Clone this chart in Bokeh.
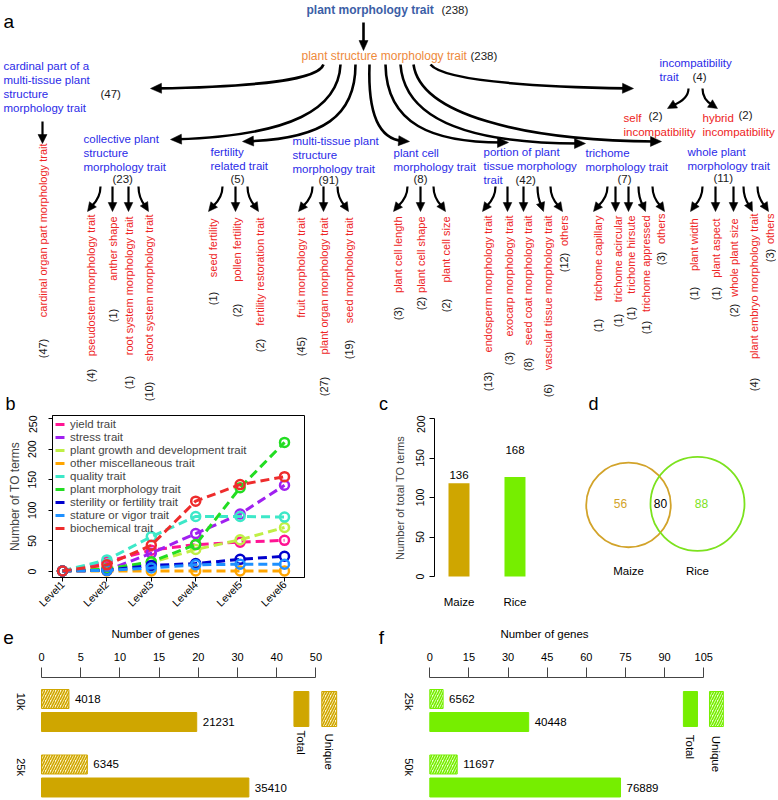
import numpy as np
from bokeh.plotting import figure
from bokeh.models import Range1d, FixedTicker, Legend, LegendItem
from bokeh.layouts import column, row
from bokeh.core.properties import value
from bokeh.embed import file_html
from bokeh.resources import INLINE

FONT = "Liberation Sans"

# ======================= DATA =======================
# ---- panel a : TO hierarchy ----
root_term, root_count = "plant morphology trait", 238
struct_term, struct_count = "plant structure morphology trait", 238

node_lines = [
    ["cardinal part of a", "multi-tissue plant", "structure", "morphology trait"],
    ["collective plant", "structure", "morphology trait"],
    ["fertility", "related trait"],
    ["multi-tissue plant", "structure", "morphology trait"],
    ["plant cell", "morphology trait"],
    ["portion of plant", "tissue morphology", "trait"],
    ["trichome", "morphology trait"],
    ["whole plant", "morphology trait"],
    ["incompatibility", "trait"],
]
node_counts = [47, 23, 5, 91, 8, 42, 7, 11, 4]

incompat_lines = [["self", "incompatibility"], ["hybrid", "incompatibility"]]
incompat_counts = [2, 2]

leaves_cardinal = ["cardinal organ part morphology trait"]
counts_cardinal = [47]
leaves_collective = ["pseudostem morphology trait", "anther shape",
                     "root system morphology trait", "shoot system morphology trait"]
counts_collective = [4, 1, 1, 10]
leaves_fertility = ["seed fertility", "pollen fertility", "fertility restoration trait"]
counts_fertility = [1, 2, 2]
leaves_multi = ["fruit morphology trait", "plant organ morphology trait", "seed morphology trait"]
counts_multi = [45, 27, 19]
leaves_cell = ["plant cell length", "plant cell shape", "plant cell size"]
counts_cell = [3, 2, 2]
leaves_portion = ["endosperm morphology trait", "exocarp morphology trait",
                  "seed coat morphology trait", "vascular tissue morphology trait", "others"]
counts_portion = [13, 3, 8, 6, 12]
leaves_trichome = ["trichome capillary", "trichome acircular", "trichome hirsute",
                   "trichome appressed", "others"]
counts_trichome = [1, 1, 1, 1, 3]
leaves_whole = ["plant width", "plant aspect", "whole plant size",
                "plant embryo morphology trait", "others"]
counts_whole = [1, 1, 2, 4, 3]

# ---- panel b : number of TO terms per level ----
b_levels = ["Level1", "Level2", "Level3", "Level4", "Level5", "Level6"]
b_names = ["yield trait", "stress trait", "plant growth and development trait",
           "other miscellaneous trait", "quality trait", "plant morphology trait",
           "sterility or fertility trait", "stature or vigor trait", "biochemical trait"]
b_yield = [1, 16, 35, 44, 48, 51]
b_stress = [1, 2, 30, 62, 94, 141]
b_growth = [1, 4, 15, 36, 52, 72]
b_misc = [1, 1, 1, 1, 1, 1]
b_quality = [1, 19, 57, 90, 90, 89]
b_morph = [1, 4, 16, 44, 137, 211]
b_sterility = [1, 2, 10, 13, 20, 25]
b_stature = [1, 2, 6, 11, 12, 12]
b_biochem = [1, 11, 43, 115, 142, 155]

# ---- panel c ----
c_species = ["Maize", "Rice"]
c_term_counts = [136, 168]
c_bar_heights = [118, 126]      # bar heights as drawn in the figure

# ---- panel d : Venn ----
d_only = [56, 88]
d_shared = 80

# ---- panel e : maize ----
e_groups = ["10k", "25k"]
e_total = [21231, 35410]
e_unique = [4018, 6345]
e_total_len = [19.8, 32.9]      # bar lengths (thousand genes)
e_unique_len = [3.5, 5.85]
e_tick_vals = [0, 5, 10, 15, 20, 30, 40, 50]

# ---- panel f : rice ----
f_groups = ["25k", "50k"]
f_total = [40448, 76889]
f_unique = [6562, 11697]
f_total_len = [37.9, 73.1]
f_unique_len = [5.1, 10.5]
f_tick_vals = [0, 15, 30, 45, 60, 75, 90, 105]

# ======================= STYLE =======================
BLUE = "#2B2BE8"
RED = "#EE2424"
ORANGE = "#EE8A3C"
ROOTC = "#3B5EA6"
BLACK = "#1a1a1a"
MAIZE = "#CFA600"
RICE = "#76EE00"
LETTER = "19px"


def txt(p, xs, ys, texts, color, size, align="left", baseline="middle", angle=0.0, style="normal"):
    return p.text(x=list(xs), y=list(ys), text=list(texts), text_color=color,
                  text_font=value(FONT), text_font_size=size, text_align=align,
                  text_baseline=baseline, angle=angle, text_font_style=style)


def blank(width, height, x0, y0, mb_bottom=0):
    return figure(width=width, height=height, x_range=Range1d(x0, x0 + width),
                  y_range=Range1d(y0 + height - mb_bottom, y0), x_axis_type=None,
                  y_axis_type=None, output_backend="svg", toolbar_location=None,
                  min_border=0, min_border_bottom=mb_bottom, outline_line_color=None)


# ======================= PANEL A =======================
A_H = 415
pa = blank(776, A_H, 0, 0)

big = dict(x0=[], y0=[], x1=[], y1=[], cx0=[], cy0=[], cx1=[], cy1=[])
small = dict(x0=[], y0=[], x1=[], y1=[], cx0=[], cy0=[], cx1=[], cy1=[])
hx, hy = [], []


def arrow(store, p0, p1, c0=None, c1=None, hl=9.0, hw=4.2):
    c0 = c0 or p0
    c1 = c1 or p0
    dx, dy = p1[0] - c1[0], p1[1] - c1[1]
    L = float(np.hypot(dx, dy))
    ux, uy = dx / L, dy / L
    bx, by = p1[0] - ux * hl, p1[1] - uy * hl
    nx, ny = -uy, ux
    hx.append([p1[0], bx + nx * hw, bx - nx * hw])
    hy.append([p1[1], by + ny * hw, by - ny * hw])
    ex, ey = p1[0] - ux * hl * 0.6, p1[1] - uy * hl * 0.6
    for kk, v in zip(["x0", "y0", "x1", "y1", "cx0", "cy0", "cx1", "cy1"],
                     [p0[0], p0[1], ex, ey, c0[0], c0[1], c1[0], c1[1]]):
        store[kk].append(v)


# root + structure
txt(pa, [306], [9], [root_term], ROOTC, "12px", style="bold")
txt(pa, [441], [9], [f"({root_count})"], BLACK, "11.5px")
arrow(big, (363, 22), (363, 50), hl=10, hw=4.5)
txt(pa, [301], [55], [struct_term], ORANGE, "12px")
txt(pa, [470], [55], [f"({struct_count})"], BLACK, "11.5px")

# main curved arrows: start, c0, c1, end
main_arrows = [
    ((323, 64), (318, 79), (262, 86), (150, 88)),
    ((340, 64), (338, 108), (292, 135), (170, 139)),
    ((355, 64), (355, 116), (322, 138), (242, 141)),
    ((369, 64), (367, 120), (382, 139), (409, 141)),
    ((385, 64), (386, 124), (432, 142), (508, 142)),
    ((400, 64), (404, 120), (472, 143), (585, 143)),
    ((413, 64), (420, 114), (522, 140), (661, 141)),
    ((430, 64), (442, 79), (522, 86), (633, 88)),
]
for s, c0, c1, e in main_arrows:
    arrow(big, s, e, c0, c1, hl=11, hw=5)

# heading nodes
node_xy = [(3, 65), (83, 138), (210, 151), (292, 140), (393, 152),
           (483, 151), (585, 152), (687, 151), (659, 62)]
node_cnt_xy = [(100, 93), (112, 178), (230, 178), (318, 179), (413, 178),
               (515, 179), (617, 178), (713, 177), (692, 76)]
LS = 14.3
for lines, cnt, (x, y), (cx, cy) in zip(node_lines, node_counts, node_xy, node_cnt_xy):
    txt(pa, [x] * len(lines), [y + i * LS for i in range(len(lines))], lines, BLUE, "11.5px")
    txt(pa, [cx], [cy], [f"({cnt})"], BLACK, "11.5px")

# incompatibility children
inc_xy = [(623, 117), (702, 117)]
inc_cnt_xy = [(648, 115), (738, 114)]
for lines, cnt, (x, y), (cx, cy) in zip(incompat_lines, incompat_counts, inc_xy, inc_cnt_xy):
    txt(pa, [x] * len(lines), [y + i * LS for i in range(len(lines))], lines, RED, "11.5px")
    txt(pa, [cx], [cy], [f"({cnt})"], BLACK, "11.5px")
arrow(small, (688, 88), (667, 108), (688, 100), (674, 104), hl=9, hw=4.5)
arrow(small, (702, 88), (717, 108), (702, 100), (711, 104), hl=9, hw=4.5)

# cardinal down arrow
arrow(small, (42, 121), (42, 143), hl=9, hw=4.5)

# leaves
groups = [
    (leaves_cardinal, counts_cardinal, [42], [143], [348], None),
    (leaves_collective, counts_collective, [90, 112, 128, 148], [214, 216, 216, 214],
     [375, 315, 382, 391], [(100, 87), (112, 112), (128, 128), (138, 148)]),
    (leaves_fertility, counts_fertility, [212, 236, 259], [218, 217, 217],
     [298, 310, 345], [(222, 208), (235, 235), (247, 258)]),
    (leaves_multi, counts_multi, [300, 323, 348], [217, 217, 217],
     [346, 386, 349], [(312, 298), (323, 323), (337, 348)]),
    (leaves_cell, counts_cell, [397, 420, 445], [216, 216, 216],
     [313, 303, 305], [(407, 393), (420, 420), (433, 445)]),
    (leaves_portion, counts_portion, [487, 508, 527, 547, 563], [215] * 5,
     [381, 358, 364, 390, 262], [(495, 482), (507, 507), (523, 523), (537, 543), (550, 562)]),
    (leaves_trichome, counts_trichome, [597, 617, 630, 645, 660], [215, 215, 215, 215, 213],
     [325, 320, 313, 327, 258], [(607, 593), (615, 615), (628, 628), (638, 645), (652, 664)]),
    (leaves_whole, counts_whole, [693, 715, 733, 753, 769], [218, 218, 218, 213, 213],
     [293, 293, 310, 384, 255], [(702, 690), (715, 715), (733, 733), (743, 752), (757, 768)]),
]
for labels, counts, xs, tops, cys, arrs in groups:
    txt(pa, xs, tops, labels, RED, "11px", align="right", angle=np.pi / 2)
    txt(pa, xs, cys, [f"({c})" for c in counts], BLACK, "11px", align="center", angle=np.pi / 2)
    if arrs:
        for xs0, xe in arrs:
            if xs0 == xe:
                arrow(small, (xs0, 186), (xe, 211), hl=9, hw=4.3)
            else:
                arrow(small, (xs0, 186), (xe, 211), (xs0, 199), (xe + (xs0 - xe) * 0.35, 205), hl=9, hw=4.3)

pa.bezier(line_color="black", line_width=2.6, **big)
pa.bezier(line_color="black", line_width=2.2, **small)
pa.patches(hx, hy, fill_color="black", line_color="black", line_width=0.5)
txt(pa, [3], [21], ["a"], "black", LETTER)
# panel letters of the second row (they sit right at the top of that row)
txt(pa, [10, 383, 593], [A_H - 12] * 3, ["b", "c", "d"], "black", "18px", align="center")

# ======================= PANEL B =======================
ROW2 = 200
MB2 = 37          # bottom border shared by all plots of the second row
pb = figure(width=370, height=ROW2, x_range=Range1d(0.775, 6.45), y_range=Range1d(-9.7, 254.9),
            output_backend="svg", toolbar_location=None,
            min_border_left=52, min_border_right=66, min_border_top=0, min_border_bottom=MB2)
pb.grid.visible = False
pb.outline_line_color = "black"
xb = list(range(1, len(b_levels) + 1))
b_series = [b_yield, b_stress, b_growth, b_misc, b_quality, b_morph, b_sterility, b_stature, b_biochem]
b_colors = ["#FF1493", "#A020F0", "#BFEF45", "#FFA500", "#3DE8C8", "#22DD22",
            "#0000CD", "#1E90FF", "#EE2C2C"]
items = []
for name, vals, col in zip(b_names, b_series, b_colors):
    r = pb.line(xb, vals, line_color=col, line_width=3, line_dash="9 5")
    pb.scatter(xb, vals, marker="circle", size=9, fill_color=None, line_color=col, line_width=2.5)
    items.append(LegendItem(label=name, renderers=[r]))
leg = Legend(items=items, location="top_left", border_line_color=None, background_fill_alpha=0,
             label_text_font=FONT, label_text_font_size="11.5px", glyph_width=10, glyph_height=12,
             label_height=12, spacing=1, padding=0, margin=3, label_standoff=5)
pb.add_layout(leg)
pb.xaxis.ticker = FixedTicker(ticks=xb)
pb.xaxis.major_label_overrides = {i: lab for i, lab in zip(xb, b_levels)}
pb.xaxis.major_label_orientation = np.pi / 4
pb.yaxis.ticker = FixedTicker(ticks=[0, 50, 100, 150, 200, 250])
pb.yaxis.major_label_orientation = "vertical"
pb.yaxis.axis_label = "Number of TO terms"
for ax in [pb.xaxis[0], pb.yaxis[0]]:
    ax.major_label_text_font = FONT
    ax.major_label_text_font_size = "10.5px"
    ax.major_label_text_color = "black"
    ax.minor_tick_line_color = None
    ax.major_tick_in = 0
    ax.major_tick_out = 4
    ax.axis_label_text_font = FONT
    ax.axis_label_text_font_style = "normal"
    ax.axis_label_text_font_size = "12px"
pb.xaxis.major_label_standoff = 1
pb.yaxis.major_label_standoff = 12
pb.yaxis.axis_label_standoff = 4

# ======================= PANEL C =======================
pc = figure(width=198, height=ROW2, x_range=Range1d(0.5625, 2.545), y_range=Range1d(-1.26, 203.8),
            output_backend="svg", toolbar_location=None,
            min_border_left=64, min_border_right=23, min_border_top=0, min_border_bottom=MB2)
pc.grid.visible = False
pc.outline_line_color = None
xc = [1, 2]
pc.vbar(x=xc, top=c_bar_heights, bottom=0, width=0.375, fill_color=[MAIZE, RICE], line_color=None)
tr = txt(pc, xc, c_term_counts, [str(v) for v in c_term_counts], "black", "11.5px", align="center")
tr.glyph.y_offset = 6
pc.yaxis.bounds = (0, 200)
pc.yaxis.ticker = FixedTicker(ticks=[0, 50, 100, 150, 200])
pc.yaxis.major_label_orientation = "vertical"
pc.yaxis.axis_label = "Number of  total TO terms"
pc.yaxis.major_tick_out = 5
pc.yaxis.major_tick_in = 0
pc.yaxis.minor_tick_line_color = None
pc.yaxis.major_label_standoff = 5
pc.yaxis.axis_label_standoff = 8
pc.xaxis.ticker = FixedTicker(ticks=xc)
pc.xaxis.major_label_overrides = {i: s for i, s in zip(xc, c_species)}
pc.xaxis.axis_line_color = None
pc.xaxis.major_tick_line_color = None
pc.xaxis.minor_tick_line_color = None
pc.xaxis.major_label_standoff = 12
for ax in [pc.xaxis[0], pc.yaxis[0]]:
    ax.major_label_text_font = FONT
    ax.major_label_text_color = "black"
    ax.axis_label_text_font = FONT
    ax.axis_label_text_font_style = "normal"
    ax.axis_label_text_font_size = "11px"
pc.yaxis.major_label_text_font_size = "10.5px"
pc.xaxis.major_label_text_font_size = "11.5px"

# ======================= PANEL D =======================
pd_ = blank(208, ROW2, 568, A_H, mb_bottom=MB2)
kr = 47 / np.sqrt(max(c_term_counts))
radii = [kr * np.sqrt(v) for v in c_term_counts]
pd_.circle(x=[628, 697], y=[505, 504], radius=radii, fill_color=None,
           line_color=["#D2A32A", "#7CE21E"], line_width=1.8)
txt(pd_, [620], [504], [str(d_only[0])], "#D2A32A", "12px", align="center")
txt(pd_, [660], [504], [str(d_shared)], "black", "12px", align="center")
txt(pd_, [701], [504], [str(d_only[1])], "#7CE21E", "12px", align="center")
txt(pd_, [628, 697], [571, 571], c_species, "black", "11.5px", align="center")

# ======================= PANELS E / F =======================
ROW3 = 183
Y3 = A_H + ROW2
GY_PPU = 65.5     # pixels per group unit
GY_IMG = 710      # page y of the first group centre


def gene_panel(width, x_img0, zero_img, ppu, tick_pos, tick_labels, bounds, yaxis_img_x,
               groups, tot_len, uni_len, tot_vals, uni_vals, color, light,
               leg_boxes, leg_lbl_x, leg_lbl_y, letter, letter_img_x, title_img_x, to_x):
    def dx(px):
        return (px - zero_img) / ppu

    def dy(py):
        return (py - GY_IMG) / GY_PPU

    p = figure(width=width, height=ROW3,
               x_range=Range1d(dx(x_img0), dx(x_img0 + width)),
               y_range=Range1d(dy(Y3 + ROW3), dy(Y3)),
               x_axis_location="above", output_backend="svg", toolbar_location=None,
               min_border=0)
    p.min_border_left = p.min_border_right = p.min_border_top = p.min_border_bottom = 0
    p.grid.visible = False
    p.outline_line_color = None
    gy = np.arange(len(groups))
    off, hh = 0.1756, 0.29
    p.hbar(y=gy - off, left=0, right=[to_x(v) for v in uni_len], height=hh,
           fill_color=light, line_color=color, line_width=1, hatch_pattern="/",
           hatch_color=color, hatch_scale=5, hatch_weight=1.6)
    p.hbar(y=gy + off, left=0, right=[to_x(v) for v in tot_len], height=hh,
           fill_color=color, line_color=color, line_width=1)
    t1 = txt(p, [to_x(v) for v in uni_len], gy - off, [str(v) for v in uni_vals], "black", "11.5px")
    t1.glyph.x_offset = 6
    t2 = txt(p, [to_x(v) for v in tot_len], gy + off, [str(v) for v in tot_vals], "black", "11.5px")
    t2.glyph.x_offset = 6
    (l1, r1), (l2, r2) = leg_boxes
    p.quad(left=[l1], right=[r1], top=[-0.29], bottom=[0.244], fill_color=color, line_color=color)
    p.quad(left=[l2], right=[r2], top=[-0.29], bottom=[0.244], fill_color=light, line_color=color,
           hatch_pattern="/", hatch_color=color, hatch_scale=5, hatch_weight=1.6)
    txt(p, leg_lbl_x, leg_lbl_y, ["Total", "Unique"], "black", "11.5px", align="left",
        angle=-np.pi / 2)
    # panel letter and the title of the gene-count axis
    txt(p, [dx(letter_img_x)], [dy(637)], [letter], "black", LETTER, align="center")
    txt(p, [dx(title_img_x)], [dy(633)], ["Number of genes"], "black", "11.5px", align="center")
    ax = p.xaxis[0]
    ax.fixed_location = dy(677)
    ax.ticker = FixedTicker(ticks=tick_pos)
    ax.major_label_overrides = {tp: str(tl) for tp, tl in zip(tick_pos, tick_labels)}
    ax.bounds = bounds
    ax.major_tick_out = 10
    ax.major_tick_in = 0
    ax.minor_tick_line_color = None
    ax.axis_line_color = "#444444"
    ax.major_tick_line_color = "#444444"
    ax.major_label_standoff = 7
    ax.major_label_text_font = FONT
    ax.major_label_text_font_size = "11px"
    ax.major_label_text_color = "black"
    ay = p.yaxis[0]
    ay.fixed_location = dx(yaxis_img_x)
    ay.ticker = FixedTicker(ticks=[int(g) for g in gy])
    ay.major_label_overrides = {int(g): s for g, s in zip(gy, groups)}
    ay.major_label_orientation = -np.pi / 2
    ay.axis_line_color = None
    ay.major_tick_line_color = None
    ay.minor_tick_line_color = None
    ay.major_label_standoff = 13
    ay.major_label_text_font = FONT
    ay.major_label_text_font_size = "11px"
    ay.major_label_text_color = "black"
    return p


e_idx = list(range(len(e_tick_vals)))
pe = gene_panel(372, 0, 41, 39.2, e_idx, e_tick_vals, (0, e_idx[-1]), 39,
                e_groups, e_total_len, e_unique_len, e_total, e_unique, MAIZE, "#FFF6D0",
                [(6.44, 6.82), (7.15, 7.53)], [6.63, 7.34], [0.305, 0.35], "e", 8, 155,
                lambda v: float(np.interp(v, e_tick_vals, e_idx)))
pf = gene_panel(404, 372, 429.3, 2.609, f_tick_vals, f_tick_vals, (0, 105), 427,
                f_groups, f_total_len, f_unique_len, f_total, f_unique, RICE, "#E8FFD0",
                [(97.2, 102.6), (107.2, 112.5)], [99.9, 109.8], [0.37, 0.385], "f", 381, 544,
                lambda v: v)

layout = column(pa, row(pb, pc, pd_), row(pe, pf))
open("out.html", "w").write(file_html(layout, INLINE, title="TO terms"))
